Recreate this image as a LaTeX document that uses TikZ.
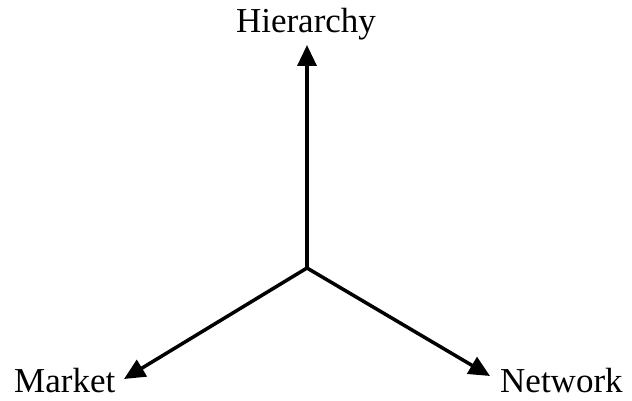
\documentclass[tikz,border=0pt]{standalone}
\usepackage{fontspec}
\setmainfont{Liberation Serif}
\usetikzlibrary{arrows.meta}
\begin{document}
\begin{tikzpicture}[x=1pt,y=1pt,
  axis/.style={line width=3.5pt,-{Triangle[length=21pt,width=19pt]}},
  lbl/.style={font=\fontsize{35}{40}\selectfont,inner sep=0pt}]
\useasboundingbox (0,0) rectangle (632,401);
\coordinate (o) at (307,133);
\coordinate (h) at (307,356);
\coordinate (m) at (124,22);
\coordinate (n) at (490,25);
\draw[axis] (o) -- (h);
\draw[axis] (o) -- (m);
\draw[axis] (o) -- (n);
\node[lbl,anchor=base] (hl) at (306,368) {Hierarchy};
\node[lbl,anchor=base west] (ml) at (14,8) {Market};
\node[lbl,anchor=base west] (nl) at (500,8) {Network};
\end{tikzpicture}
\end{document}
